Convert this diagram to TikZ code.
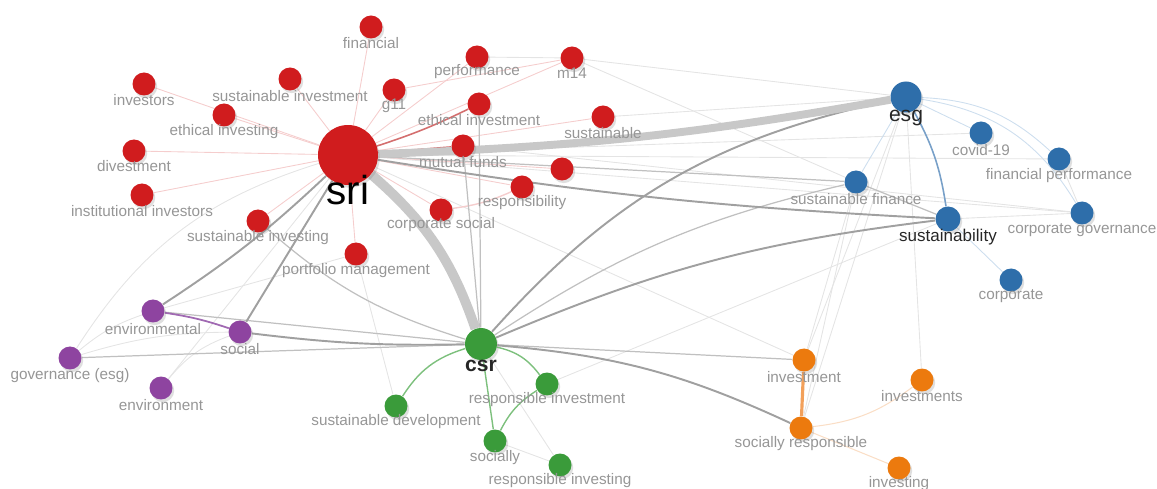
\documentclass[tikz,border=0pt]{standalone}
\usepackage{fontspec}
\setmainfont{Liberation Sans}
\usetikzlibrary{backgrounds,shadows}
\definecolor{cred}{RGB}{208,28,30}
\definecolor{cblue}{RGB}{46,110,170}
\definecolor{cgreen}{RGB}{58,155,58}
\definecolor{cpurple}{RGB}{142,68,160}
\definecolor{corange}{RGB}{236,122,14}
\definecolor{lbl}{RGB}{150,150,150}
\definecolor{egthk}{RGB}{200,200,200}
\definecolor{egdk}{RGB}{160,160,160}
\definecolor{egmd}{RGB}{192,192,192}
\definecolor{egft}{RGB}{228,228,228}
\definecolor{redft}{RGB}{245,205,205}
\definecolor{reddk}{RGB}{212,110,110}
\definecolor{blft}{RGB}{205,222,238}
\definecolor{bldk}{RGB}{120,160,200}
\definecolor{grl}{RGB}{125,192,125}
\definecolor{pul}{RGB}{160,105,178}
\definecolor{orl}{RGB}{242,160,90}
\definecolor{orft}{RGB}{250,222,198}
\tikzstyle{nd}=[circle, inner sep=0pt, minimum size=0.46cm, drop shadow={shadow xshift=1pt, shadow yshift=-1.5pt, opacity=0.25}]
\tikzstyle{rn}=[nd, fill=cred]
\tikzstyle{bn}=[nd, fill=cblue]
\tikzstyle{gn}=[nd, fill=cgreen]
\tikzstyle{pn}=[nd, fill=cpurple]
\tikzstyle{on}=[nd, fill=corange]
\tikzstyle{lb}=[inner sep=0pt, text=lbl, font=\fontsize{8.7}{10}\selectfont]
\tikzstyle{big}=[inner sep=0pt, text=black!85]
\tikzstyle{thk}=[draw=egthk]
\tikzstyle{dk}=[draw=egdk, line width=1.1pt]
\tikzstyle{md}=[draw=egmd, line width=0.7pt]
\tikzstyle{ft}=[draw=egft, line width=0.5pt]
\tikzstyle{rd}=[draw=redft, line width=0.5pt]
\tikzstyle{rdk}=[draw=reddk, line width=0.9pt]
\tikzstyle{bl}=[draw=blft, line width=0.5pt]
\tikzstyle{bld}=[draw=bldk, line width=0.9pt]
\tikzstyle{gr}=[draw=grl, line width=0.8pt]
\tikzstyle{pu}=[draw=pul, line width=1pt]
\tikzstyle{og}=[draw=orl, line width=1.8pt]
\tikzstyle{ogf}=[draw=orft, line width=0.6pt]

\begin{document}
\begin{tikzpicture}[x=0.02cm, y=-0.02cm]
\useasboundingbox (0,0) rectangle (1157,489);

% red cluster
\node[rn, minimum size=1.2cm] (sri) at (348,155) {};
\node[rn] (fin) at (371,27) {};
\node[rn] (invs) at (144,84) {};
\node[rn] (susinv) at (290,79) {};
\node[rn] (ethinvg) at (224,115) {};
\node[rn] (divest) at (134,151) {};
\node[rn] (instinv) at (142,195) {};
\node[rn] (susinvg) at (258,221) {};
\node[rn] (portf) at (356,254) {};
\node[rn] (g11) at (394,90) {};
\node[rn] (perf) at (477,57) {};
\node[rn] (m14) at (572,58) {};
\node[rn] (ethinv) at (479,104) {};
\node[rn] (sust) at (603,117) {};
\node[rn] (mutual) at (463,146) {};
\node[rn] (redx) at (562,169) {};
\node[rn] (respy) at (522,187) {};
\node[rn] (corpsoc) at (441,210) {};

% blue cluster
\node[bn, minimum size=0.62cm] (esg) at (906,97) {};
\node[bn] (covid) at (981,133) {};
\node[bn] (finperf) at (1059,159) {};
\node[bn] (susfin) at (856,182) {};
\node[bn, minimum size=0.5cm] (susty) at (948,219) {};
\node[bn] (corpgov) at (1082,213) {};
\node[bn] (corp) at (1011,280) {};

% purple cluster
\node[pn] (envl) at (153,311) {};
\node[pn] (social) at (240,332) {};
\node[pn] (gov) at (70,358) {};
\node[pn] (envt) at (161,388) {};

% green cluster
\node[gn, minimum size=0.64cm] (csr) at (481,344) {};
\node[gn] (resinv) at (547,384) {};
\node[gn] (susdev) at (396,406) {};
\node[gn] (socially) at (495,441) {};
\node[gn] (resinvg) at (560,465) {};

% orange cluster
\node[on] (invt) at (804,360) {};
\node[on] (invts) at (922,380) {};
\node[on] (socresp) at (801,428) {};
\node[on] (investing) at (899,468) {};

% labels
\node[big, font=\fontsize{23}{23}\selectfont, text=black] (sriL) at (348,190) {sri};
\node[lb] (finL) at (371,43) {financial};
\node[lb] (invsL) at (144,100) {investors};
\node[lb] (susinvL) at (290,96) {sustainable investment};
\node[lb] (ethinvgL) at (224,132) {ethical investing};
\node[lb] (divestL) at (134,166) {divestment};
\node[lb] (instinvL) at (142,211) {institutional investors};
\node[lb] (susinvgL) at (258,238) {sustainable investing};
\node[lb] (portfL) at (356,271) {portfolio management};
\node[lb] (g11L) at (394,106) {g11};
\node[lb] (perfL) at (477,72) {performance};
\node[lb] (m14L) at (572,73) {m14};
\node[lb] (ethinvL) at (479,120) {ethical investment};
\node[lb] (sustL) at (603,133) {sustainable};
\node[lb] (mutualL) at (463,162) {mutual funds};
\node[lb] (respyL) at (522,203) {responsibility};
\node[lb] (corpsocL) at (441,225) {corporate social};
\node[big, font=\fontsize{12}{12}\selectfont] (esgL) at (906,118) {esg};
\node[lb] (covidL) at (981,150) {covid-19};
\node[lb] (finperfL) at (1059,176) {financial performance};
\node[lb] (susfinL) at (856,199) {sustainable finance};
\node[big, font=\fontsize{9.7}{11}\selectfont] (sustyL) at (948,237) {sustainability};
\node[lb] (corpgovL) at (1082,230) {corporate governance};
\node[lb] (corpL) at (1011,296) {corporate};
\node[lb] (envlL) at (153,329) {environmental};
\node[lb] (socialL) at (240,349) {social};
\node[lb] (govL) at (70,376) {governance (esg)};
\node[lb] (envtL) at (161,405) {environment};
\node[big, font=\bfseries\fontsize{12}{12}\selectfont] (csrL) at (481,366) {csr};
\node[lb] (resinvL) at (547,400) {responsible investment};
\node[lb] (susdevL) at (396,422) {sustainable development};
\node[lb] (sociallyL) at (495,458) {socially};
\node[lb] (resinvgL) at (560,481) {responsible investing};
\node[lb] (invtL) at (804,377) {investment};
\node[lb] (invtsL) at (922,396) {investments};
\node[lb] (socrespL) at (801,444) {socially responsible};
\node[lb] (investingL) at (899,484) {investing};

\begin{scope}[on background layer]
% faint links
\draw[ft] (gov) to[bend left=20] (sri);
\draw[ft] (envt) -- (sri);
\draw[ft] (envt) to[bend left=15] (social);
\draw[ft] (gov) to[bend left=10] (envl);
\draw[ft] (gov) to[bend left=8] (social);
\draw[ft] (envl) -- (portf);
\draw[ft] (portf) -- (susdev);
\draw[ft] (csr) -- (resinvg);
\draw[ft] (socially) -- (resinvg);
\draw[ft] (m14) -- (esg);
\draw[ft] (m14) -- (susfin);
\draw[ft] (perf) -- (m14);
\draw[ft] (sust) -- (esg);
\draw[ft] (sri) -- (covid);
\draw[ft] (sri) -- (corpgov);
\draw[ft] (sri) -- (finperf);
\draw[ft] (sri) -- (invt);
\draw[ft] (esg) -- (invt);
\draw[ft] (esg) -- (socresp);
\draw[ft] (esg) -- (invts);
\draw[ft] (susfin) -- (invt);
\draw[ft] (susfin) -- (socresp);
\draw[ft] (susty) -- (corpgov);
\draw[ft] (finperf) -- (corpgov);
\draw[ft] (mutual) -- (corpgov);
\draw[ft] (resinv) -- (susty);
% red links
\draw[rd] (sri) -- (fin);
\draw[rd] (sri) -- (invs);
\draw[rd] (sri) -- (susinv);
\draw[rd] (sri) -- (ethinvg);
\draw[rd] (sri) -- (divest);
\draw[rd] (sri) -- (instinv);
\draw[rd] (sri) -- (susinvg);
\draw[rd] (sri) -- (portf);
\draw[rd] (sri) -- (g11);
\draw[rd] (sri) -- (perf);
\draw[rd] (sri) -- (m14);
\draw[rd] (sri) -- (sust);
\draw[rd] (sri) -- (redx);
\draw[rd] (sri) -- (respy);
\draw[rd] (sri) -- (corpsoc);
\draw[rd] (g11) -- (m14);
\draw[rd, line width=0.8pt] (respy) to[bend left=8] (corpsoc);
\draw[rdk] (sri) to[bend right=4] (ethinv);
\draw[rdk] (sri) -- (mutual);
% grey links
\draw[md] (sri) -- (susfin);
\draw[md] (csr) -- (envl);
\draw[md] (csr) -- (gov);
\draw[md] (csr) -- (invt);
\draw[md] (csr) -- (mutual);
\draw[md] (csr) -- (ethinv);
\draw[md] (susinvg) to[bend right=12] (csr);
\draw[md] (csr) to[bend left=10] (susfin);
\draw[md] (susfin) -- (susty);
\draw[dk] (sri) to[bend right=3] (susty);
\draw[dk] (sri) -- (social);
\draw[dk] (sri) to[bend left=5] (envl);
\draw[dk] (csr) to[bend left=4] (social);
\draw[dk] (csr) to[bend left=18] (esg);
\draw[dk] (csr) to[bend left=8] (susty);
\draw[dk] (csr) to[bend left=10] (socresp);
% main links
\draw[thk, line width=5.5pt] (sri) to[bend left=15] (csr);
\draw[thk, line width=4.5pt] (sri) to[bend right=4] (esg);
% cluster links
\draw[bld] (esg) to[bend left=10] (susty);
\draw[bl] (esg) -- (covid);
\draw[bl] (esg) -- (susfin);
\draw[bl] (esg) to[bend left=20] (finperf);
\draw[bl] (esg) to[bend left=25] (corpgov);
\draw[bl] (susty) -- (corp);
\draw[gr] (csr) to[bend right=20] (susdev);
\draw[gr] (csr) to[bend left=20] (resinv);
\draw[gr] (csr) -- (socially);
\draw[gr] (socially) to[bend left=15] (resinv);
\draw[pu] (envl) to[bend left=5] (social);
\draw[og] (invt) -- (socresp);
\draw[ogf] (socresp) to[bend right=15] (invts);
\draw[ogf] (socresp) -- (investing);
\end{scope}

\end{tikzpicture}
\end{document}
